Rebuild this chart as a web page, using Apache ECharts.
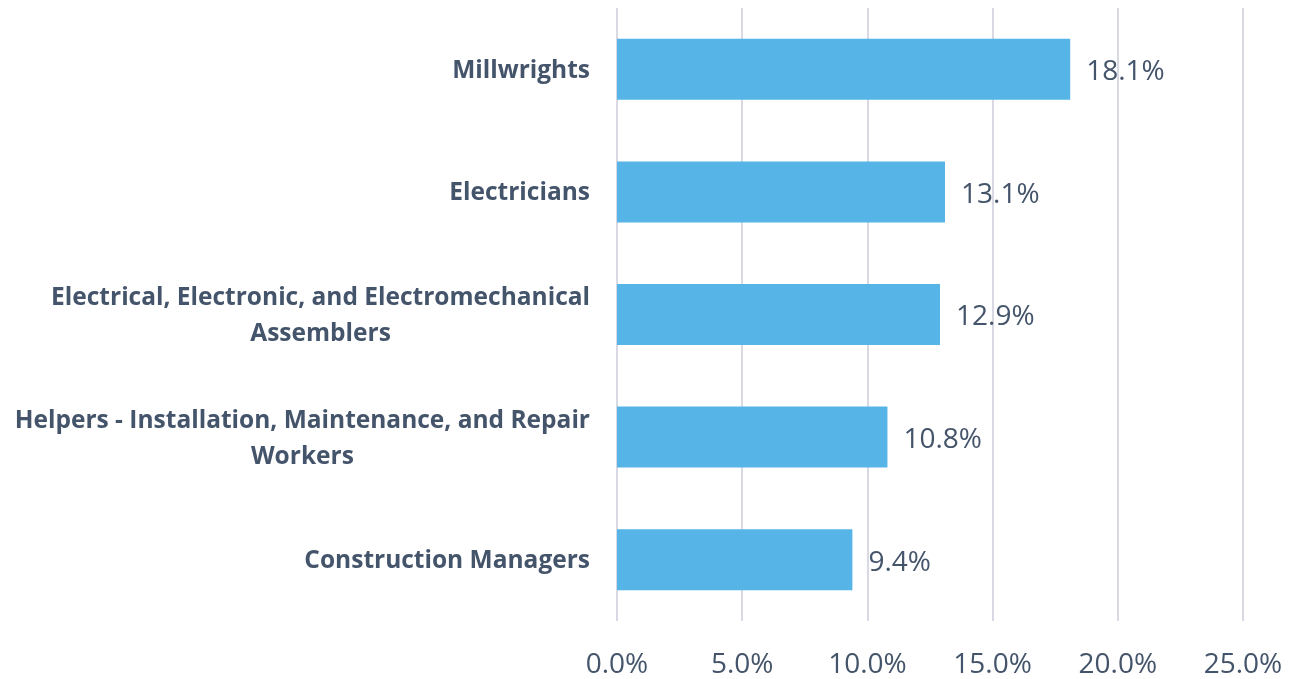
<!DOCTYPE html>
<html>
<head>
<meta charset="utf-8">
<script src="https://cdn.jsdelivr.net/npm/echarts@6/dist/echarts.min.js"></script>
<style>
	html, body { margin: 0; padding: 0; background: #fff; }
	#chart { width: 1302px; height: 679px; }
</style>
</head>
<body>
<div id="chart"></div>
<script>
// data, bottom to top as drawn on the category axis
var categories = [
	"Construction Managers",
	"Helpers - Installation, Maintenance, and Repair\nWorkers",
	"Electrical, Electronic, and Electromechanical\nAssemblers",
	"Electricians",
	"Millwrights"
];
var values = [9.4, 10.8, 12.9, 13.1, 18.1];
var tickMax = 25;
var tickStep = 5;

var textColor = '#44546A';
var chart = echarts.init(document.getElementById("chart"));

var option = {
	animation: false,
	grid: {
		left: 617,
		right: 59,
		top: 8,
		bottom: 56,
		containLabel: false
	},
	xAxis: {
		type: 'value',
		min: 0,
		max: tickMax,
		interval: tickStep,
		axisLine: { show: false },
		axisTick: { show: false },
		splitLine: { lineStyle: { color: '#D9D9E3', width: 2 } },
		axisLabel: {
			margin: 30,
			fontFamily: 'Open Sans',
			fontSize: 28,
			color: textColor,
			formatter: function(v) {
				return v.toFixed(1) + '%';
			}
		}
	},
	yAxis: {
		type: 'category',
		data: categories,
		axisLine: { show: false },
		axisTick: { show: false },
		axisLabel: {
			margin: 27,
			fontFamily: 'Open Sans',
			fontWeight: 'bold',
			fontSize: 24.5,
			color: textColor,
			formatter: function(v) {
				return v.split('\n').map(function(s) {
					return '{a|' + s + '}';
				}).join('\n');
			},
			rich: {
				a: {
					align: 'center',
					fontFamily: 'Open Sans',
					fontWeight: 'bold',
					fontSize: 24.5,
					lineHeight: 36,
					padding: [3, 0, 0, 0],
					color: textColor
				}
			}
		}
	},
	series: [{
		type: 'bar',
		data: values,
		barWidth: 61,
		itemStyle: { color: '#56B4E6' },
		label: {
			show: true,
			position: 'right',
			distance: 16,
			offset: [0, 3],
			fontFamily: 'Open Sans',
			fontSize: 28,
			color: textColor,
			formatter: function(p) {
				return p.value.toFixed(1) + '%';
			}
		}
	}]
};

chart.setOption(option);
</script>
</body>
</html>
